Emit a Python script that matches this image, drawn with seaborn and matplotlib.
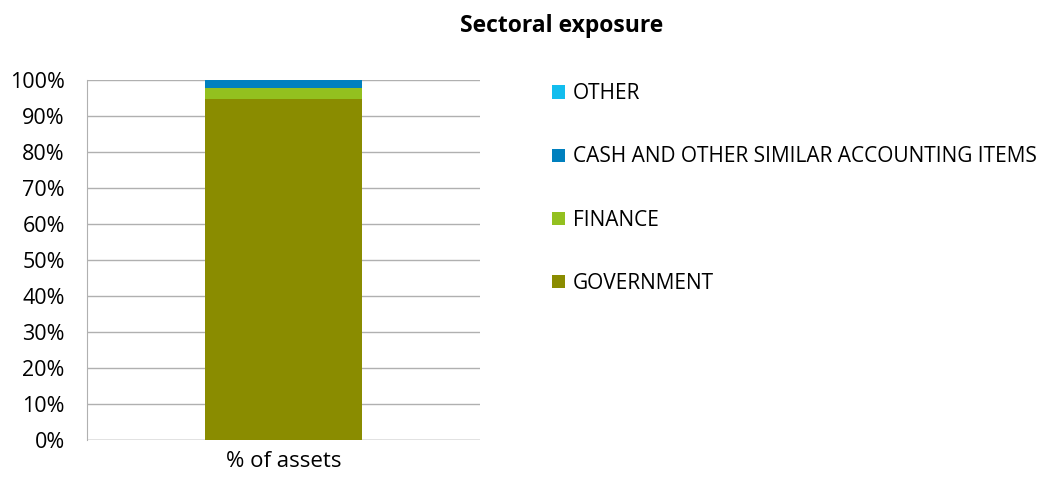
import matplotlib
matplotlib.use("Agg")
import matplotlib.pyplot as plt
import seaborn as sns
import numpy as np
import pandas as pd
from matplotlib.patches import Patch

categories = ["% of assets"]
series_names = ["GOVERNMENT", "FINANCE", "CASH AND OTHER SIMILAR ACCOUNTING ITEMS", "OTHER"]
government = [94.6]
finance = [3.2]
cash = [2.2]
other = [0.0]
colors = ["#8A8C00", "#93C01F", "#0080BE", "#12BDEE"]
y_ticks = [0, 10, 20, 30, 40, 50, 60, 70, 80, 90, 100]
y_tick_labels = [f"{v}%" for v in y_ticks]

sns.set_style("white")
plt.rcParams['font.family'] = ['Open Sans', 'DejaVu Sans']
plt.rcParams['text.color'] = 'black'

fig = plt.figure(figsize=(10.47, 4.79), dpi=100)
ax = fig.add_axes([87/1047, 1 - 440/479, (480-87)/1047, 360/479])

values = [government, finance, cash, other]
cum = np.cumsum(np.array(values), axis=0)
# Draw from top layer down so lower layers overlay upper ones
for i in range(len(series_names) - 1, -1, -1):
    df = pd.DataFrame({"cat": categories, "val": cum[i]})
    sns.barplot(data=df, x="cat", y="val", color=colors[i], width=0.4,
                saturation=1, ax=ax, zorder=3, linewidth=0)

ax.set_ylim(0, 100)
ax.set_xlim(-0.5, 0.5)
ax.set_yticks(y_ticks)
ax.set_yticklabels(y_tick_labels)
ax.yaxis.grid(True, color="#B0B0B0", linewidth=1, zorder=0)
ax.set_axisbelow(True)
for s in ["top", "right", "bottom"]:
    ax.spines[s].set_visible(False)
ax.spines["left"].set_color("#B0B0B0")
ax.set_xlabel("")
ax.set_ylabel("")
ax.tick_params(axis="y", labelsize=15.5, labelcolor="#000000", length=0, pad=16)
ax.tick_params(axis="x", labelsize=16, labelcolor="#000000", length=0, pad=8)
ax.axhline(0, color="#B0B0B0", linewidth=1, zorder=1)

fig.suptitle("Sectoral exposure", x=562/1047, y=1 - 26/479, va="center",
             fontsize=16.5, fontweight="bold", color="black")

handles = [Patch(facecolor=colors[i], edgecolor="none") for i in range(3, -1, -1)]
labels = [series_names[i] for i in range(3, -1, -1)]
leg = fig.legend(handles, labels, loc="upper left", bbox_to_anchor=(542/1047, 1 - 73/479),
                 frameon=False, fontsize=15, labelspacing=2.02, handlelength=0.6,
                 handleheight=0.6, handletextpad=0.4, borderpad=0)
for t in leg.get_texts():
    t.set_color("black")

fig.savefig("out.png", dpi=100)
